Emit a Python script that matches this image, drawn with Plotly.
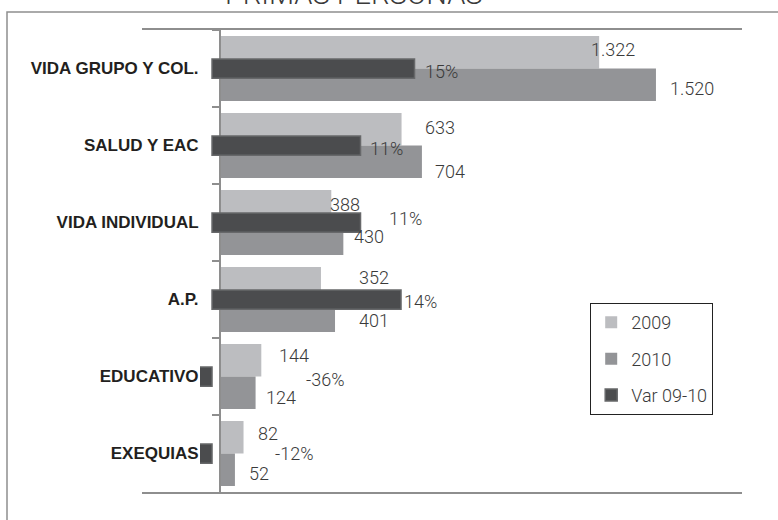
import plotly.graph_objects as go

# ---- data ----
categories = ["VIDA GRUPO Y COL.", "SALUD Y EAC", "VIDA INDIVIDUAL", "A.P.", "EDUCATIVO", "EXEQUIAS"]
primas_2009 = [1322, 633, 388, 352, 144, 82]
primas_2010 = [1520, 704, 430, 401, 124, 52]
var_09_10 = [15, 11, 11, 14, -36, -12]
title_text = "PRIMAS PERSONAS"
legend_names = ["2009", "2010", "Var 09-10"]

# ---- style ----
C2009 = "#bcbdc0"
C2010 = "#939497"
CVAR = "#4b4c4e"
AXIS = "#8e8e8e"
TXT = "#3a3a3a"
VALFONT = dict(family="Roboto", size=18, color=TXT, weight=300)

# per-label pixel nudges (layout only)
nudge_2009_x = [-10, 21, -3, 36, 16, 12]
nudge_2009_y = [19.5, 18.5, 18.5, 22.5, 21.5, 20.5]
nudge_2010_x = [12, 11, 9, 22, 8, 12]
nudge_2010_y = [-19.5, -25.5, -13.5, -20.5, -20.5, -19.5]
nudge_var_x = [8, 7, 26, 1, 92, 61]
nudge_var_y = [-2.5, -2.5, 4.5, -1.5, -2.5, 0.5]


def fmt(v):
    return f"{v:,}".replace(",", ".")


fig = go.Figure()
fig.add_trace(go.Bar(y=categories, x=primas_2009, orientation="h", name=legend_names[0],
                     marker=dict(color=C2009, line=dict(width=0)), xaxis="x", yaxis="y",
                     legendgroup="a", hoverinfo="skip"))
fig.add_trace(go.Bar(y=categories, x=primas_2010, orientation="h", name=legend_names[1],
                     marker=dict(color=C2010, line=dict(width=0)), xaxis="x", yaxis="y",
                     legendgroup="b", hoverinfo="skip"))
fig.add_trace(go.Bar(y=categories, x=var_09_10, orientation="h", name=legend_names[2],
                     marker=dict(color=CVAR, line=dict(color="#67686a", width=1.5)),
                     width=0.25, xaxis="x2", yaxis="y", legendgroup="c", hoverinfo="skip"))

ann = []
for i, c in enumerate(categories):
    ann.append(dict(x=primas_2009[i], y=c, xref="x", yref="y", text=fmt(primas_2009[i]),
                    showarrow=False, xanchor="left", yanchor="middle",
                    xshift=nudge_2009_x[i], yshift=nudge_2009_y[i], font=VALFONT))
    ann.append(dict(x=primas_2010[i], y=c, xref="x", yref="y", text=fmt(primas_2010[i]),
                    showarrow=False, xanchor="left", yanchor="middle",
                    xshift=nudge_2010_x[i], yshift=nudge_2010_y[i], font=VALFONT))
    ann.append(dict(x=max(var_09_10[i], 0), y=c, xref="x2", yref="y", text=f"{var_09_10[i]}%",
                    showarrow=False, xanchor="left", yanchor="middle",
                    xshift=nudge_var_x[i], yshift=nudge_var_y[i], font=VALFONT))

ann.append(dict(x=0.353, y=1.037, xref="paper", yref="paper", text=title_text, showarrow=False,
                xanchor="center", yanchor="bottom",
                font=dict(family="Roboto", size=29, color=TXT, weight=300)))

fig.update_layout(
    width=778, height=520, autosize=False,
    margin=dict(l=142, r=36, t=30, b=28),
    paper_bgcolor="white", plot_bgcolor="rgba(0,0,0,0)",
    barmode="group", bargap=0.156, bargroupgap=0,
    showlegend=True,
    legend=dict(x=0.747, y=0.409, xanchor="left", yanchor="top",
                bordercolor="#222222", borderwidth=1, bgcolor="white",
                font=dict(family="Roboto", size=18, color=TXT, weight=300),
                traceorder="grouped", tracegroupgap=10),
    xaxis=dict(range=[-272, 1820], domain=[0, 1], showticklabels=False, showgrid=False,
               zeroline=False, showline=True, mirror=True, linecolor=AXIS, linewidth=2,
               ticks="", fixedrange=True),
    xaxis2=dict(range=[-0.89, 39.26], domain=[0.0967, 1], anchor="y", visible=False,
                fixedrange=True),
    yaxis=dict(autorange="reversed", anchor="free", position=0.13, showline=True,
               linecolor=AXIS, linewidth=2, ticks="outside", tickson="boundaries",
               ticklen=7, tickwidth=2, tickcolor=AXIS, showgrid=False, zeroline=False,
               ticklabelstandoff=17,
               tickfont=dict(family="Liberation Sans", size=17, color="#231f20", weight="bold")),
    annotations=ann,
    shapes=[dict(type="rect", xref="paper", yref="paper", x0=-0.225, x1=1.2, y0=-0.2, y1=1.039,
                 line=dict(color="#8f8f8f", width=1.5), fillcolor="rgba(0,0,0,0)", layer="below")],
)

fig.write_html("out.html", config={"displayModeBar": False},
               post_script="document.body.style.margin='0';")
